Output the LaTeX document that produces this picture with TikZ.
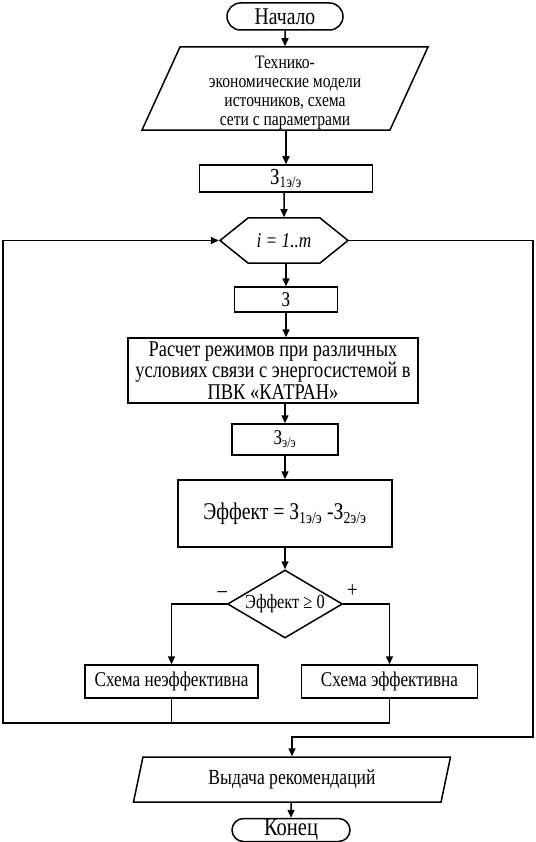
\documentclass[tikz,border=0pt]{standalone}
\usepackage{fontspec}
\setmainfont{Liberation Serif}[FakeStretch=0.82]
\usepackage{tikz}
\usetikzlibrary{shapes.geometric,shapes.misc,shapes.symbols,arrows.meta}
\usetikzlibrary{positioning}

\newcommand{\fsz}[2]{\fontsize{#1}{#2}\selectfont}

\tikzset{
 term/.style={draw, rounded rectangle, inner sep=0pt, font=\fsz{24}{24}},
 block/.style={draw, rectangle, inner sep=1pt, align=center},
 io/.style={draw, trapezium, trapezium stretches body=true, inner sep=0pt, align=center},
 loopbox/.style={draw, signal, signal to=west and east, inner sep=0pt},
 choice/.style={draw, diamond, aspect=1.7, inner sep=0pt},
 sign/.style={font=\fsz{23}{23}, inner sep=1pt}
}

\begin{document}
\begin{tikzpicture}[x=1pt, y=1pt, line width=1.5pt, >={Triangle[length=8pt,width=7pt]}]
 \useasboundingbox (0,0) rectangle (535,-842);

 % start of the scheme
 \node[term, minimum width=116pt, minimum height=27pt] (start) at (285,-16.5) {Начало};

 % input data
 % strut on the first line moves the text a bit down
 \node[io, trapezium left angle=65.4, trapezium right angle=114.6,
  minimum width=286pt, minimum height=83pt, font=\fsz{19}{19},
  below of=start, node distance=72pt] (input)
  {\rule{0pt}{22pt}Технико-\\экономические модели\\источников, схема\\сети с параметрами};

 % cost of the base scheme
 \node[block, minimum width=173pt, minimum height=27pt, font=\fsz{23}{23},
  below of=input, node distance=90pt, xshift=1pt] (zone) {З\textsubscript{1э/э}};

 % loop over the variants
 \node[loopbox, signal pointer angle=77.6, minimum width=128pt, minimum height=45pt,
  font=\fsz{21}{21}\itshape,
  below of=zone, node distance=62pt, xshift=-2pt] (cycle) {i = 1..m};

 \node[block, minimum width=103pt, minimum height=25pt, font=\fsz{21}{21},
  below of=cycle, node distance=59pt, xshift=2pt] (zvar) {З};

 % modes of the network
 \node[block, minimum width=290pt, minimum height=65pt, font=\fsz{22.5}{21.7},
  below of=zvar, node distance=71pt, xshift=-13pt] (calc)
  {Расчет режимов при различных\\условиях связи с энергосистемой в\\ПВК «КАТРАН»};

 \node[block, minimum width=106pt, minimum height=31pt, font=\fsz{21}{21},
  below of=calc, node distance=69pt, xshift=12pt] (zee) {З\textsubscript{э/э}};

 \node[block, minimum width=214pt, minimum height=67pt, font=\fsz{24}{24},
  below of=zee, node distance=74pt] (effect)
  {Эффект = З\textsubscript{1э/э} -З\textsubscript{2э/э}};

 % check of the effect
 \node[choice, minimum width=115pt, minimum height=68pt, font=\fsz{20}{20},
  below of=effect, node distance=90.5pt] (check) {Эффект ≥ 0};

 \node[block, minimum width=173pt, minimum height=33pt, font=\fsz{21}{21},
  below of=check, node distance=77.5pt, xshift=-113.5pt] (bad) {Схема неэффективна};
 \node[block, minimum width=176pt, minimum height=33pt, font=\fsz{21}{21},
  below of=check, node distance=77.5pt, xshift=104.5pt] (good) {Схема эффективна};

 % output and end
 \node[io, trapezium left angle=63.9, trapezium right angle=116.1,
  minimum width=317pt, minimum height=45pt, font=\fsz{21.5}{21.5}] (output) at (292,-779.5)
  {Выдача рекомендаций};
 \node[term, minimum width=118pt, minimum height=23pt, font=\fsz{25}{25},
  below of=output, node distance=50.5pt, xshift=-1pt] (stop) {Конец};

 % corners of the loop
 \coordinate (loopL) at (3,-723);
 \coordinate (loopR) at (533,-737);

 \node[sign, above left=5pt and -2pt of check.west] (minus) {--};
 \node[sign, above right=5pt and 2pt of check.east] (plus) {+};

 % arrows of the main line
 \draw[->] (start) -- (start |- input.north);
 \draw[->] (input.south -| zone) -- (zone);
 \draw[->] (zone.south -| cycle) -- (cycle);
 \draw[->] (cycle.south -| zvar) -- (zvar);
 \draw[->] (zvar) -- (zvar |- calc.north);
 \draw[->] (zee |- calc.south) -- (zee);
 \draw[->] (zee) -- (effect);
 \draw[->] (effect) -- (check);
 \draw[->] (check.west) -| (bad);
 \draw[->] (check.east) -| (good);

 % closing of the loop
 \draw (bad) -- (bad |- loopL);
 \draw[->] (good.south) |- (loopL) |- (cycle.west);
 \draw[->] (cycle.east) -| (loopR) -| (output.north);
 \draw[->] (output.south -| stop) -- (stop);

\end{tikzpicture}
\end{document}
